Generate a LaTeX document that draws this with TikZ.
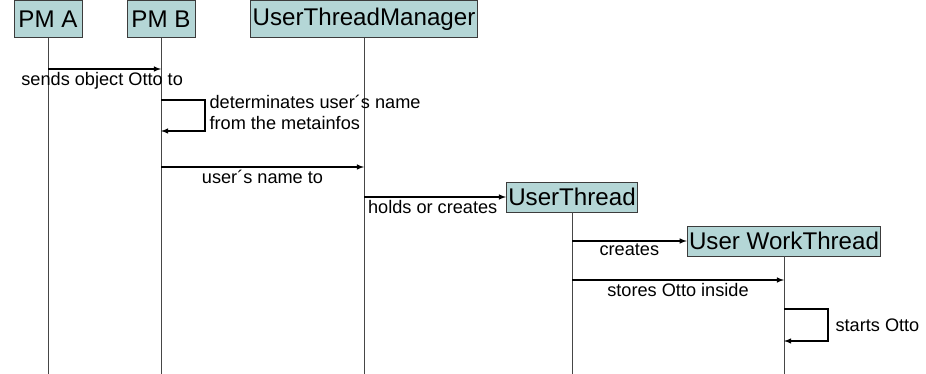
\documentclass[tikz,border=0pt]{standalone}
\usepackage{fontspec}
\setmainfont{Liberation Sans}
\usepackage{tikz}
\usetikzlibrary{calc}
\tikzset{>=latex}
\usetikzlibrary{arrows}
\definecolor{boxfill}{RGB}{180,214,214}
\definecolor{boxline}{RGB}{60,60,60}
\definecolor{lifeline}{RGB}{70,70,70}

\begin{document}
\begin{tikzpicture}[x=0.03cm,y=-0.03cm]
      \tikzstyle{obj}=[draw=boxline,fill=boxfill,line width=0.8pt,inner xsep=1.5pt,inner ysep=0pt,minimum width=2.04cm,font=\fontsize{20.6}{24}\selectfont]
      \tikzstyle{life}=[draw=lifeline,line width=0.8pt]
      \tikzstyle{msg}=[line width=1.1pt,->]
      \tikzstyle{lbl}=[inner sep=2pt,font=\fontsize{15.5}{18}\selectfont]
      \useasboundingbox (0,0) rectangle (926,374);
      %%% objects
      \node (pmA) at (48,19) [obj,minimum height=1.1cm] {PM A};
      \node (pmB) at (161,19) [obj,minimum height=1.1cm] {PM B};
      \node (utm) at (364,19) [obj,minimum height=1.1cm] {UserThreadManager};
      \node (ut) at (572,197) [obj,minimum width=0cm,minimum height=0.9cm] {UserThread};
      \node (uwt) at (784,241) [obj,minimum width=0cm,minimum height=0.9cm] {User WorkThread};
      %%% lifelines
      \foreach \n in {pmA,pmB,utm,ut,uwt}
        \draw[life] (\n) -- (\n |- 0,374);
      %%% PM A -> PM B
      \draw[msg] (pmA |- 0,69) -- node[lbl,below,xshift=-2pt] (sends) {sends object Otto to} (pmB |- 0,69);
      %%% PM B self call
      \draw[msg] (pmB |- 0,100) -- ++(44,0) |- (pmB |- 0,131);
      \node (names) at (207,112) [lbl,anchor=west,align=left] {determinates user´s name\\from the metainfos};
      %%% PM B -> UserThreadManager
      \draw[msg] (pmB |- 0,167) -- node[lbl,below] (nameto) {user´s name to} (utm |- 0,167);
      %%% UserThreadManager -> UserThread
      \draw[msg] (ut.west -| utm) -- node[lbl,below,xshift=-2pt] (holds) {holds or creates} (ut.west);
      %%% UserThread -> User WorkThread
      \draw[msg] (uwt.west -| ut) -- node[lbl,below] (creates) {creates} (uwt.west);
      \draw[msg] (ut |- 0,280) -- node[lbl,below] (stores) {stores Otto inside} (uwt |- 0,280);
      %%% User WorkThread self call
      \draw[msg] (uwt |- 0,309) -- ++(44,0) |- (uwt |- 0,341);
      \node (starts) at (833,325) [lbl,anchor=west] {starts Otto};
\end{tikzpicture}
\end{document}
